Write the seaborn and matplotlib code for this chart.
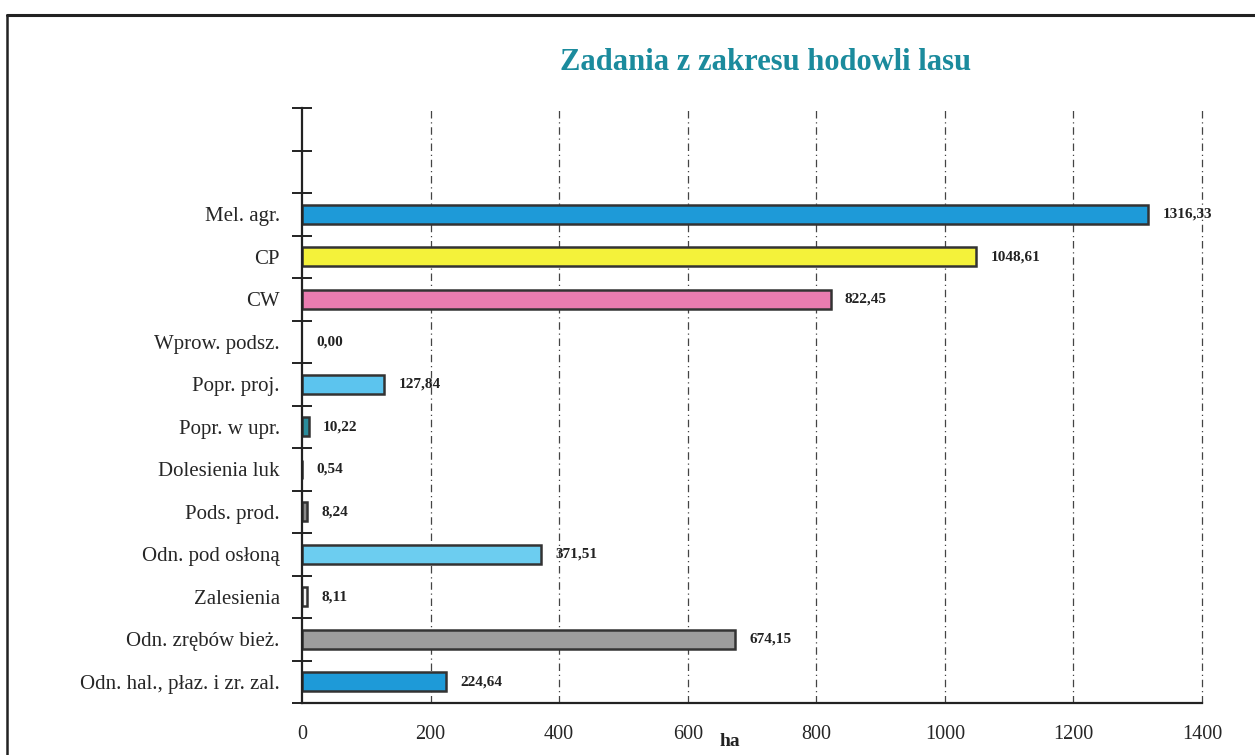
import matplotlib
matplotlib.use("Agg")
import matplotlib.pyplot as plt
import seaborn as sns
import pandas as pd
import numpy as np
from matplotlib.lines import Line2D
from matplotlib.ticker import FixedLocator
import matplotlib.transforms as mtransforms

categories = ["Mel. agr.", "CP", "CW", "Wprow. podsz.", "Popr. proj.", "Popr. w upr.",
              "Dolesienia luk", "Pods. prod.", "Odn. pod osłoną", "Zalesienia",
              "Odn. zrębów bież.", "Odn. hal., płaz. i zr. zal."]
values = [1316.33, 1048.61, 822.45, 0.00, 127.84, 10.22, 0.54, 8.24, 371.51, 8.11, 674.15, 224.64]
value_labels = ["1316,33", "1048,61", "822,45", "0,00", "127,84", "10,22", "0,54", "8,24",
                "371,51", "8,11", "674,15", "224,64"]
bar_colors = ["#1e9ad8", "#f4f23a", "#ea7cb0", "#8fd3f0", "#5cc4ee", "#2a8c9c", "#9a9a9a",
              "#8a8a8a", "#6ccdf0", "#f2f2f2", "#9c9c9c", "#1e9ad8"]
x_ticks = [0, 200, 400, 600, 800, 1000, 1200, 1400]
title = "Zadania z zakresu hodowli lasu"

sns.set_theme(style="white")
plt.rcParams['font.family'] = ['Liberation Serif', 'DejaVu Serif']

df = pd.DataFrame({"cat": categories, "val": values})

fig = plt.figure(figsize=(12.55, 7.55), dpi=100)
ax = fig.add_axes([302/1255, 1 - 703/755, 900/1255, (703 - 108)/755])

sns.barplot(data=df, y="cat", x="val", hue="cat", order=categories, hue_order=categories,
            palette=dict(zip(categories, bar_colors)), orient="h", width=0.44,
            edgecolor="#333333", linewidth=1.8, legend=False, ax=ax, saturation=1)

for p in ax.patches:
    if p.get_width() == 0:
        p.set_linewidth(0)

ax.set_xlim(0, 1400)
ax.set_ylim(len(categories) - 0.5, -2.5)

# gridlines
for xt in x_ticks[1:]:
    ax.axvline(xt, color="#444444", linestyle=(0, (6, 3, 1, 3)), linewidth=0.9, zorder=0,
               clip_on=False)

# spines
for s in ["top", "right"]:
    ax.spines[s].set_visible(False)
for s in ["left", "bottom"]:
    ax.spines[s].set_visible(True)
    ax.spines[s].set_color("#222222")
    ax.spines[s].set_linewidth(1.6)

ax.set_xticks(x_ticks)
ax.set_xticklabels([str(t) for t in x_ticks], fontsize=14.5)
ax.tick_params(axis="x", direction="inout", length=12, width=1.4, color="#222222", pad=10)

ax.yaxis.set_minor_locator(FixedLocator(np.arange(-2.5, len(categories), 1.0)))
ax.tick_params(axis="y", which="major", length=0, labelsize=15, pad=16)
ax.tick_params(axis="y", which="minor", direction="inout", length=14, width=1.4, color="#222222", left=True)
ax.set_ylabel("")
ax.set_xlabel("")

for i, (v, lab) in enumerate(zip(values, value_labels)):
    ax.text(v + 22, i, lab, va="center", ha="left", fontsize=11, fontweight="bold", color="#222222")

trans = mtransforms.blended_transform_factory(ax.transData, ax.transAxes)
ax.text(665, -0.065, "ha", transform=trans, ha="center", va="center", fontsize=14,
        fontweight="bold", color="#222222")

fig.text(765/1255, 1 - 62/755, title, ha="center", va="center", fontsize=22,
         fontweight="bold", color="#1b8b9d")

# outer frame
fig.add_artist(Line2D([7/1255, 7/1255], [0, 1 - 15/755], transform=fig.transFigure,
                      color="#222222", linewidth=1.8))
fig.add_artist(Line2D([7/1255, 1], [1 - 15/755, 1 - 15/755], transform=fig.transFigure,
                      color="#222222", linewidth=2.2))

fig.savefig("out.png", dpi=100)
